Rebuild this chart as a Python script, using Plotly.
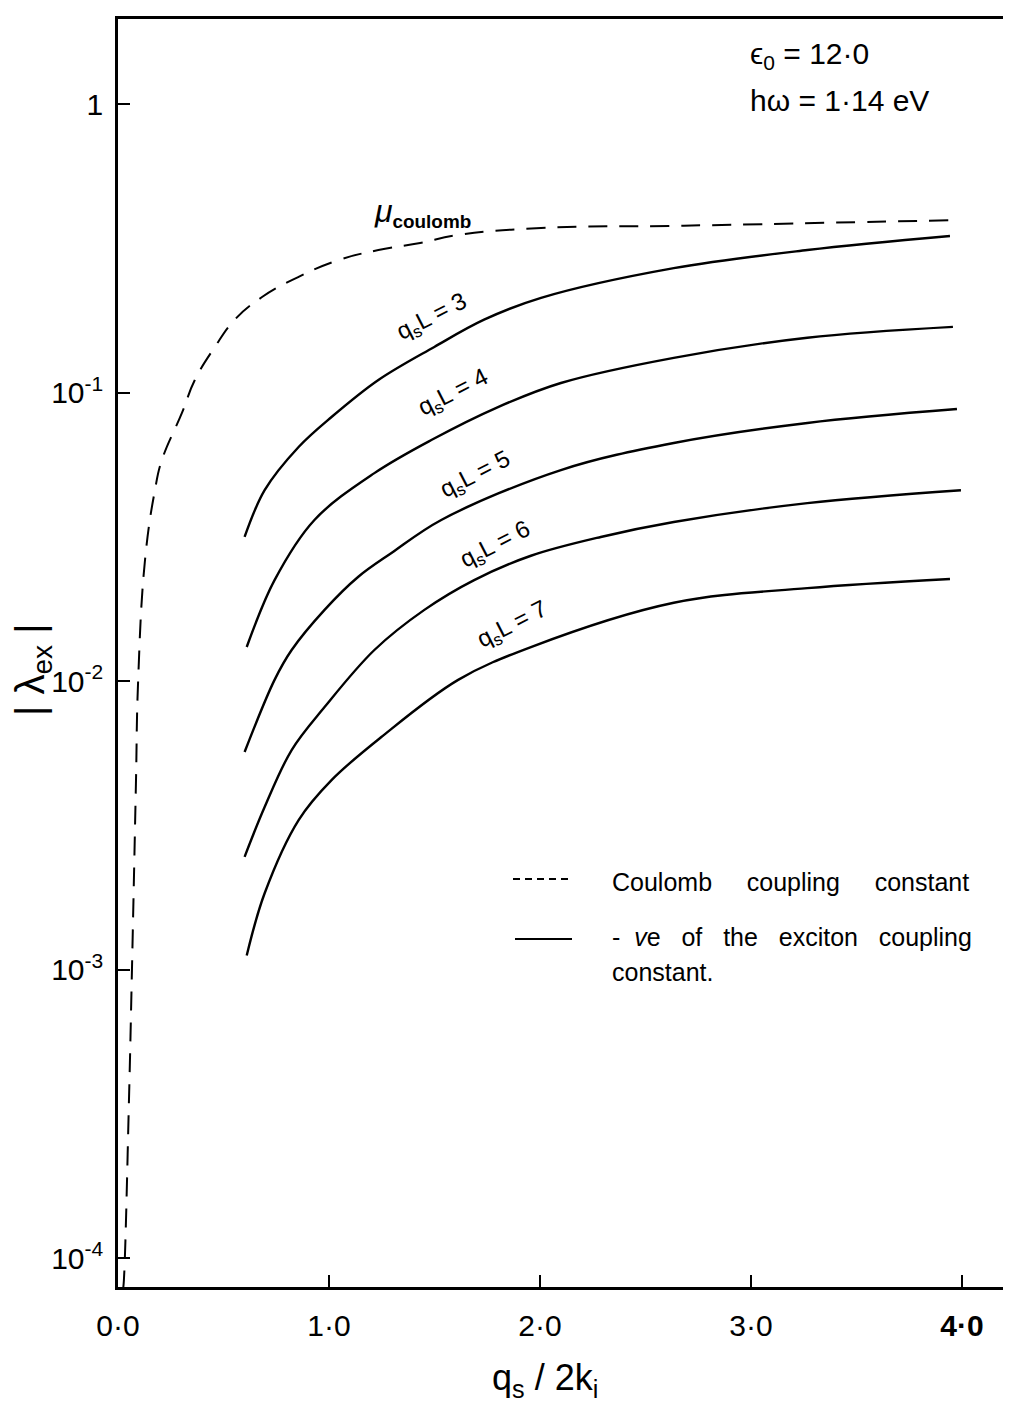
import plotly.graph_objects as go

# ---- data ----
coulomb_x = [0.024, 0.028, 0.052, 0.066, 0.085, 0.095, 0.128, 0.175, 0.208, 0.303, 0.364,
             0.459, 0.553, 0.681, 0.856, 1.045, 1.234, 1.432, 1.612, 2.005, 2.681, 3.943]
coulomb_y = [7.8e-5, 8.4e-5, 3.53e-4, 9.9e-4, 4.43e-3, 9.85e-3, 0.0263, 0.0459, 0.0584, 0.085, 0.1106,
             0.144, 0.179, 0.214, 0.252, 0.288, 0.312, 0.330, 0.352, 0.372, 0.379, 0.396]

qsL3_x = [0.600, 0.695, 0.856, 1.012, 1.234, 1.499, 1.735, 2.005, 2.634, 3.267, 3.943]
qsL3_y = [0.0316, 0.0459, 0.0648, 0.0823, 0.1106, 0.144, 0.179, 0.213, 0.270, 0.312, 0.349]

qsL4_x = [0.610, 0.742, 0.931, 1.215, 1.485, 1.801, 2.099, 2.634, 3.267, 3.957]
qsL4_y = [0.01313, 0.0224, 0.0362, 0.0526, 0.0685, 0.0891, 0.108, 0.132, 0.155, 0.169]

qsL5_x = [0.600, 0.742, 0.823, 0.979, 1.139, 1.296, 1.532, 2.099, 2.634, 3.267, 3.976]
qsL5_y = [0.00568, 0.0101, 0.01282, 0.01766, 0.0230, 0.0278, 0.0362, 0.0539, 0.0669, 0.0785, 0.0877]

qsL6_x = [0.600, 0.695, 0.823, 0.979, 1.215, 1.452, 1.688, 1.957, 2.288, 2.634, 3.267, 3.995]
qsL6_y = [0.00246, 0.00366, 0.00577, 0.00813, 0.01282, 0.01766, 0.0224, 0.0272, 0.0316,
          0.0356, 0.0414, 0.0459]

qsL7_x = [0.610, 0.695, 0.856, 1.012, 1.248, 1.612, 1.957, 2.634, 3.267, 3.943]
qsL7_y = [0.00112, 0.00184, 0.00330, 0.00454, 0.0064, 0.0101, 0.01313, 0.0187, 0.0210, 0.0226]

x_tickvals = [0, 1, 2, 3, 4]
x_ticktext = ["0·0", "1·0", "2·0", "3·0", "<b>4·0</b>"]
y_tickvals = [1, 0.1, 0.01, 0.001, 0.0001]
y_ticktext = ["1", "10<sup>-1</sup>", "10<sup>-2</sup>", "10<sup>-3</sup>", "10<sup>-4</sup>"]

curve_labels = ["3", "4", "5", "6", "7"]

FONT = "Liberation Sans"

# page body has an 8px margin: compensate so the plot lands where the reference has it
OFF = 8
W, H = 1011 - OFF, 1412 - 2 * OFF
L_M, T_M = 118 - OFF, 19 - OFF
B_M = (OFF + H) - 1287
PLOT_W = W - L_M
PLOT_H = H - T_M - B_M

fig = go.Figure()
fig.add_trace(go.Scatter(x=coulomb_x, y=coulomb_y, mode="lines",
                         line=dict(color="black", width=2, dash="19px,12px", shape="spline", smoothing=1.2),
                         showlegend=False, hoverinfo="skip"))
for xs, ys in [(qsL3_x, qsL3_y), (qsL4_x, qsL4_y), (qsL5_x, qsL5_y), (qsL6_x, qsL6_y), (qsL7_x, qsL7_y)]:
    fig.add_trace(go.Scatter(x=xs, y=ys, mode="lines",
                             line=dict(color="black", width=2.4, shape="spline", smoothing=1.0),
                             showlegend=False, hoverinfo="skip"))

fig.update_layout(
    width=W, height=H,
    margin=dict(l=L_M, r=0, t=T_M, b=B_M, pad=0),
    paper_bgcolor="white", plot_bgcolor="white",
    font=dict(family=FONT, color="black"),
    showlegend=False,
)
fig.update_xaxes(range=[0, PLOT_W / 211.0], showgrid=False, zeroline=False,
                 showline=True, linecolor="black", linewidth=2.5, mirror=True,
                 ticks="inside", ticklen=12, tickwidth=1.5, tickcolor="black",
                 tickvals=x_tickvals, ticktext=x_ticktext, ticklabelstandoff=10,
                 tickfont=dict(size=30, family=FONT))
fig.update_yaxes(type="log", range=[-4.10, 0.295], showgrid=False, zeroline=False,
                 showline=True, linecolor="black", linewidth=2.5,
                 ticks="inside", ticklen=12, tickwidth=1.5, tickcolor="black",
                 tickvals=y_tickvals, ticktext=y_ticktext, ticklabelstandoff=6,
                 tickfont=dict(size=30, family=FONT))


def px2paper(px, py):
    return (px - 118) / float(PLOT_W), (1287 - py) / float(PLOT_H)


ann = []
label_pos = [(432, 318), (453, 393), (475, 475), (495, 545), (512, 625)]
for lab, (px, py) in zip(curve_labels, label_pos):
    xp, yp = px2paper(px, py)
    ann.append(dict(x=xp, y=yp, xref="paper", yref="paper", showarrow=False,
                    xanchor="center", yanchor="middle",
                    text=f"q<sub>s</sub>L = {lab}", textangle=-27,
                    font=dict(size=24, family=FONT)))
xp, yp = px2paper(422, 212)
ann.append(dict(x=xp, y=yp, xref="paper", yref="paper", showarrow=False,
                xanchor="center", yanchor="middle",
                text="<i><span style='font-size:32px'>μ</span></i><sub><b>coulomb</b></sub>",
                font=dict(size=27, family=FONT)))
xp, yp = px2paper(748, 55)
ann.append(dict(x=xp, y=yp, xref="paper", yref="paper", showarrow=False,
                xanchor="left", yanchor="middle",
                text="ϵ<sub>0</sub> = 12·0", font=dict(size=30, family=FONT)))
xp, yp = px2paper(748, 100)
ann.append(dict(x=xp, y=yp, xref="paper", yref="paper", showarrow=False,
                xanchor="left", yanchor="middle",
                text="hω = 1·14 eV", font=dict(size=30, family=FONT)))
for txt, py in [("Coulomb     coupling     constant", 882),
                ("-  <i>v</i>e   of   the   exciton   coupling", 937),
                ("constant.", 972)]:
    xp, yp = px2paper(610, py)
    ann.append(dict(x=xp, y=yp, xref="paper", yref="paper", showarrow=False,
                    xanchor="left", yanchor="middle",
                    text=txt, font=dict(size=25, family=FONT)))
xp, yp = px2paper(545, 1380)
ann.append(dict(x=xp, y=yp, xref="paper", yref="paper", showarrow=False,
                xanchor="center", yanchor="middle",
                text="q<sub>s</sub> / 2k<sub>i</sub>", font=dict(size=36, family=FONT)))
xp, yp = px2paper(33, 670)
ann.append(dict(x=xp, y=yp, xref="paper", yref="paper", showarrow=False, textangle=-90,
                xanchor="center", yanchor="middle",
                text="| λ<sub>ex</sub> |", font=dict(size=40, family=FONT)))
fig.update_layout(annotations=ann)

x0, y0 = px2paper(513, 879)
x1, _ = px2paper(570, 879)
fig.add_shape(type="line", xref="paper", yref="paper", x0=x0, x1=x1, y0=y0, y1=y0,
              line=dict(color="black", width=2, dash="7px,5px"))
x0, y0 = px2paper(515, 939)
x1, _ = px2paper(572, 939)
fig.add_shape(type="line", xref="paper", yref="paper", x0=x0, x1=x1, y0=y0, y1=y0,
              line=dict(color="black", width=2))

fig.write_html("out.html")
